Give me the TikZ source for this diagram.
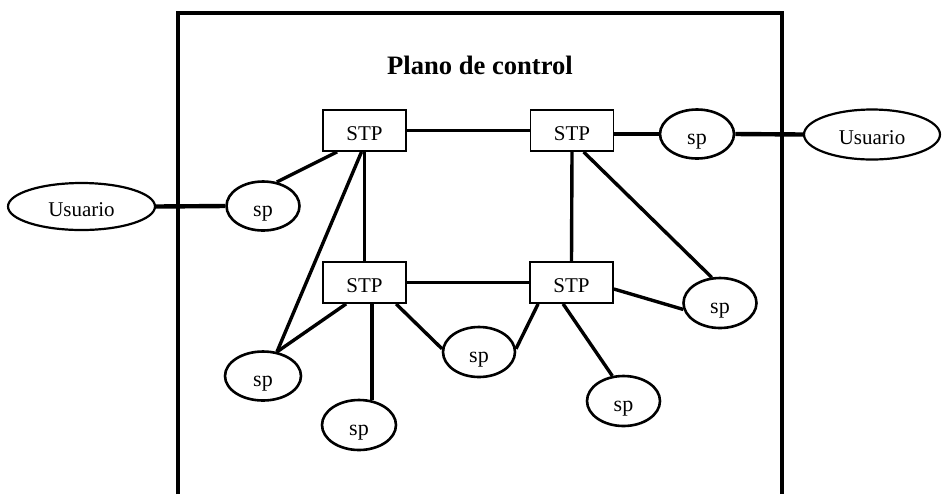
\documentclass[tikz,border=0pt]{standalone}
\usepackage{fontspec}
\setmainfont{Liberation Serif}
\usetikzlibrary{shapes.geometric}

\tikzset{
  labeltext/.style={font=\fontsize{10.5}{12}\selectfont, text height=10pt, text depth=0pt},
  stpbox/.style={draw, line width=0.9pt, rectangle, inner sep=0pt, labeltext,
    minimum width=41.5pt, minimum height=20.5pt},
  spnode/.style={draw, line width=1.3pt, ellipse, inner sep=0pt, labeltext,
    font=\fontsize{11}{12}\selectfont,
    minimum width=36.5pt, minimum height=24.5pt},
  usernode/.style={draw, line width=1.1pt, ellipse, inner sep=0pt, labeltext},
  link/.style={line width=1.7pt},
  userlink/.style={line width=2.2pt},
  frame/.style={line width=1.6pt}
}

\begin{document}
\begin{tikzpicture}[x=0.5pt, y=-0.5pt]
  \useasboundingbox (0,0) rectangle (942,494);

  % control-plane frame, open at the bottom
  \draw[frame] (178,494) -- (178,13) -- (782,13) -- (782,494);
  \node[font=\bfseries\fontsize{13.3}{15}\selectfont] (title) at (480,65) {Plano de control};

  % signal transfer points
  \node[stpbox] (stp1) at (364.5,130.5) {STP};
  \node[stpbox] (stp2) at (572,130.5) {STP};
  \node[stpbox] (stp3) at (364.5,282.5) {STP};
  \node[stpbox] (stp4) at (571.5,282.5) {STP};

  % signalling points
  \node[spnode] (spl)  at (263,206)   {sp};
  \node[spnode, minimum width=37pt] (sptr) at (697,134) {sp};
  \node[spnode, minimum height=25pt] (spr)  at (720,303)   {sp};
  \node[spnode, minimum width=38pt] (spbl) at (263,376)   {sp};
  \node[spnode, minimum width=37pt, minimum height=25pt] (spb)  at (359,425)   {sp};
  \node[spnode, minimum width=36pt, minimum height=25pt] (spm)  at (479,352)   {sp};
  \node[spnode, minimum height=25pt] (spbr) at (623.5,401) {sp};

  % users
  \node[usernode, minimum width=73.5pt, minimum height=23.5pt] (ul) at (81.5,206.5) {Usuario};
  \node[usernode, minimum width=68pt, minimum height=25pt] (ur) at (872,134.5) {Usuario};

  % user access links
  \draw[userlink] (ul.east) -- (spl.west);
  \draw[userlink] (sptr.east) -- (ur.west);

  % STP mesh
  \draw[link] (stp1.east) -- (stp2.west);
  \draw[link] (stp3.east) -- (stp4.west);
  \draw[link] (stp1.south) -- (stp3.north);
  \draw[link] (stp2.south) -- (stp4.north);
  \draw[link] (stp2.east |- sptr.west) -- (sptr.west);

  % links from STPs to signalling points
  \draw[link] ([xshift=7.5pt]stp1.south west) -- (spl.60);
  \draw[link] ([xshift=-1.5pt]stp1.south) -- (spbl.60);
  \draw[link] ([xshift=12pt]stp3.south west) -- (spbl.60);
  \draw[link] (stp3.south -| spb.62) -- (spb.62);
  \draw[link] ([xshift=37pt]stp3.south west) -- (spm.175);
  \draw[link] ([xshift=4.5pt]stp4.south west) -- (spm.5);
  \draw[link] ([xshift=17pt]stp4.south west) -- (spbr.114);
  \draw[link] ([yshift=-3.25pt]stp4.east) -- (spr.190);
  \draw[link] ([xshift=27pt]stp2.south west) -- (spr.108);
\end{tikzpicture}
\end{document}
